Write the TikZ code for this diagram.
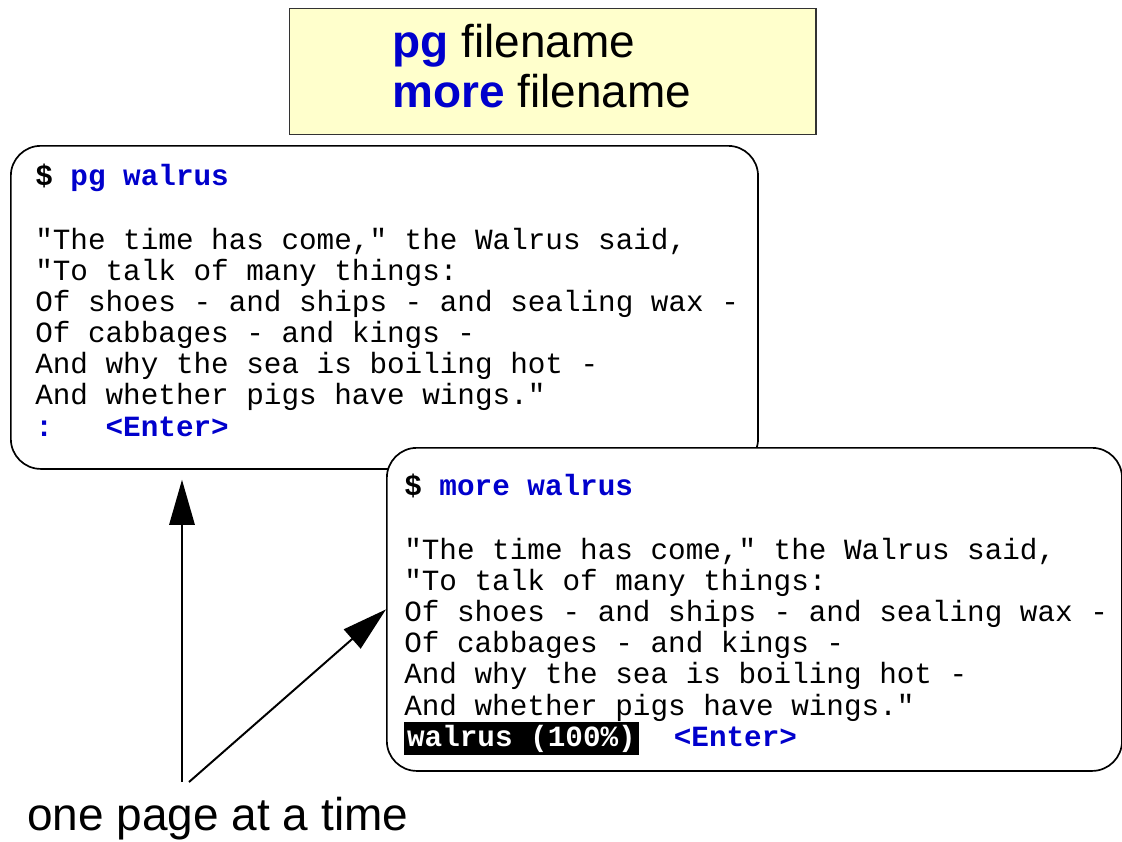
\documentclass[tikz,border=0pt]{standalone}
\usepackage{fontspec}
\setmainfont{Liberation Sans}
\setmonofont{Liberation Mono}
\usetikzlibrary{arrows.meta,positioning}
\definecolor{cmdblue}{RGB}{0,0,204}
\definecolor{noteyellow}{RGB}{255,255,204}

\tikzset{
  termbox/.style={draw, line width=1.2pt, rounded corners=0.75cm, fill=white, anchor=north west, minimum height=8.075cm, inner sep=0pt},
  termtext/.style={anchor=base west, align=left, inner sep=0pt, font=\ttfamily\fontsize{20.85}{22.05}\selectfont},
  pointer/.style={-{Triangle[length=32pt,width=18pt]}, line width=1.4pt},
}
\newcommand{\cmd}[1]{\textcolor{cmdblue}{\textbf{#1}}}

\begin{document}
\begin{tikzpicture}[x=0.025cm, y=-0.025cm]
    \useasboundingbox (0,0) rectangle (1122,841);

    % Command summary (text anchored at its last line)
    \node[draw=black!80, line width=1pt, fill=noteyellow, anchor=north west, minimum width=13.15cm, minimum height=3.15cm, inner sep=0pt] (cmdbox) at (289,8) {};
    \node[anchor=base west, align=left, inner sep=0pt, font=\fontsize{32.7}{35.5}\selectfont] (cmdtext) at (392,107) {\cmd{pg} filename\\ \cmd{more} filename};

    % pg output
    \node[termbox, minimum width=18.675cm] (pgbox) at (10,145) {};
    \node[termtext] (pgtext) at (35,436) {\textbf{\$ \cmd{pg walrus}}\\[24pt]
        "The time has come," the Walrus said,\\
        "To talk of many things:\\
        Of shoes - and ships - and sealing wax -\\
        Of cabbages - and kings -\\
        And why the sea is boiling hot -\\
        And whether pigs have wings."\\
        \cmd{:~~~<Enter>}};

    % more output
    \node[termbox, minimum width=18.375cm] (morebox) at (386,447) {};
    \node[termtext] (moretext) at (404,746) {\textbf{\$ \cmd{more walrus}}\\[24pt]
        "The time has come," the Walrus said,\\
        "To talk of many things:\\
        Of shoes - and ships - and sealing wax -\\
        Of cabbages - and kings -\\
        And why the sea is boiling hot -\\
        And whether pigs have wings."\\
        {\setlength{\fboxsep}{2pt}\smash{\colorbox{black}{\textcolor{white}{\textbf{walrus (100\%)}}}}}~~\cmd{<Enter>}};

    % Arrows
    \node[anchor=base west, inner sep=0pt, font=\fontsize{32.7}{33.4}\selectfont] (caption) at (27,830) {one page at a time};
    \coordinate (pgfoot) at (182,782);
    \coordinate (morefoot) at (189,782);
    \draw[pointer, shorten >=0.25cm] (pgfoot) -- (pgfoot |- pgbox.south);
    \draw[pointer] (morefoot) -- (morebox.west);
\end{tikzpicture}
\end{document}
